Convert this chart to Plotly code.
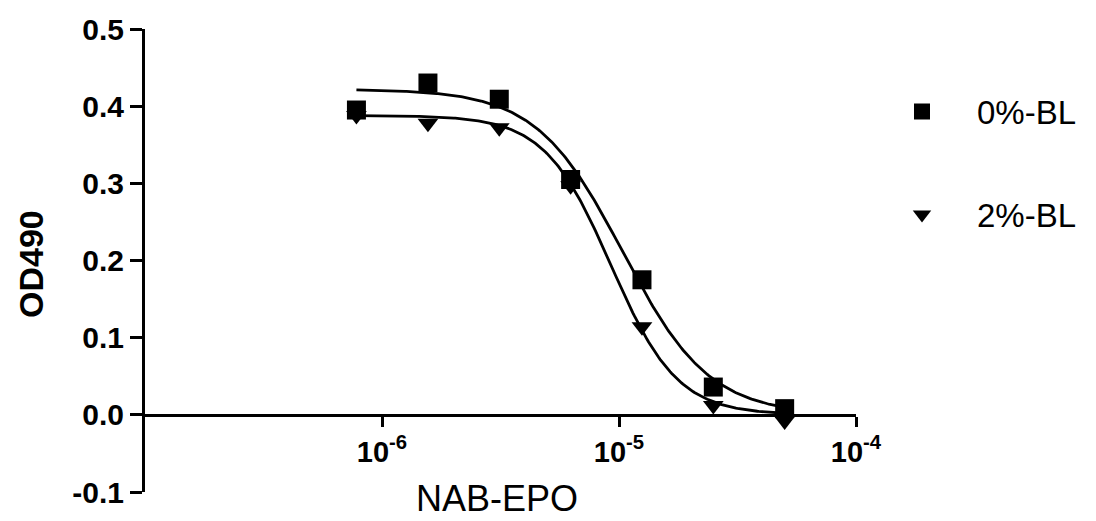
import numpy as np
import plotly.graph_objects as go

# ---- data ----
doses = [7.8e-7, 1.5625e-6, 3.125e-6, 6.25e-6, 1.25e-5, 2.5e-5, 5e-5]
od_0bl = [0.395, 0.430, 0.409, 0.305, 0.175, 0.036, 0.008]
od_2bl = [0.388, 0.378, 0.372, 0.297, 0.114, 0.012, -0.008]
series_names = ["0%-BL", "2%-BL"]

# fitted 4-parameter logistic curves (top, bottom, logEC50, hill)
fit_0bl = [0.422, 0.0, -4.984, 2.38]
fit_2bl = [0.388, 0.0, -5.034, 3.10]

x_tickvals = [1e-6, 1e-5, 1e-4]
x_ticktext = ["10<sup>-6</sup>", "10<sup>-5</sup>", "10<sup>-4</sup>"]
y_tickvals = [-0.1, 0.0, 0.1, 0.2, 0.3, 0.4, 0.5]
y_ticktext = ["-0.1", "0.0", "0.1", "0.2", "0.3", "0.4", "0.5"]

FONT = "Liberation Sans, Arial, sans-serif"


def curve(params, xs):
    top, bottom, logec50, hill = params
    lx = np.log10(xs)
    return bottom + (top - bottom) / (1 + 10 ** ((lx - logec50) * hill))


xs = np.logspace(np.log10(doses[0]), np.log10(doses[-1]), 300)

fig = go.Figure()
fig.add_trace(go.Scatter(x=xs, y=curve(fit_0bl, xs), mode="lines",
                         line=dict(color="black", width=2.8), showlegend=False,
                         hoverinfo="skip"))
fig.add_trace(go.Scatter(x=xs, y=curve(fit_2bl, xs), mode="lines",
                         line=dict(color="black", width=2.8), showlegend=False,
                         hoverinfo="skip"))
fig.add_trace(go.Scatter(x=doses, y=od_0bl, mode="markers", name=series_names[0],
                         legendgroup="a",
                         marker=dict(symbol="square", size=19, color="black")))
fig.add_trace(go.Scatter(x=doses, y=od_2bl, mode="markers", name=series_names[1],
                         legendgroup="b",
                         marker=dict(symbol="triangle-down", size=18, color="black")))

L, R, T, B = 145, 240, 25, 29
W, H = 1096, 521
pw, ph = W - L - R, H - T - B


def px_x(px):
    return (px - L) / pw


def px_y(py):
    return (H - B - py) / ph


fig.update_layout(
    width=W, height=H,
    margin=dict(l=L, r=R, t=T, b=B),
    paper_bgcolor="white", plot_bgcolor="white",
    font=dict(family=FONT, color="black"),
    xaxis=dict(type="log", range=[-7, -4], anchor="free", position=1/6,
               showline=True, linecolor="black", linewidth=3,
               ticks="outside", ticklen=10, tickwidth=3, tickcolor="black",
               tickvals=x_tickvals, ticktext=x_ticktext,
               tickfont=dict(size=29, family=FONT, weight="bold"),
               showgrid=False, zeroline=False),
    yaxis=dict(range=[-0.1, 0.5], tickvals=y_tickvals, ticktext=y_ticktext,
               showline=True, linecolor="black", linewidth=3,
               ticks="outside", ticklen=12, tickwidth=3, tickcolor="black",
               tickfont=dict(size=30, family=FONT, weight="bold"),
               showgrid=False, zeroline=False),
    legend=dict(x=px_x(867), y=px_y(80), xanchor="left", yanchor="top",
                font=dict(size=33, family=FONT), tracegroupgap=57,
                traceorder="grouped", itemwidth=100, bgcolor="rgba(0,0,0,0)"),
    annotations=[
        dict(text="OD490", x=px_x(31), y=px_y(262), xref="paper", yref="paper",
             showarrow=False, textangle=-90, xanchor="center", yanchor="middle",
             font=dict(size=34, family=FONT, weight="bold")),
        dict(text="NAB-EPO", x=px_x(497), y=px_y(499), xref="paper", yref="paper",
             showarrow=False, xanchor="center", yanchor="middle",
             font=dict(size=36, family=FONT)),
    ],
)

fig.write_html("out.html")
